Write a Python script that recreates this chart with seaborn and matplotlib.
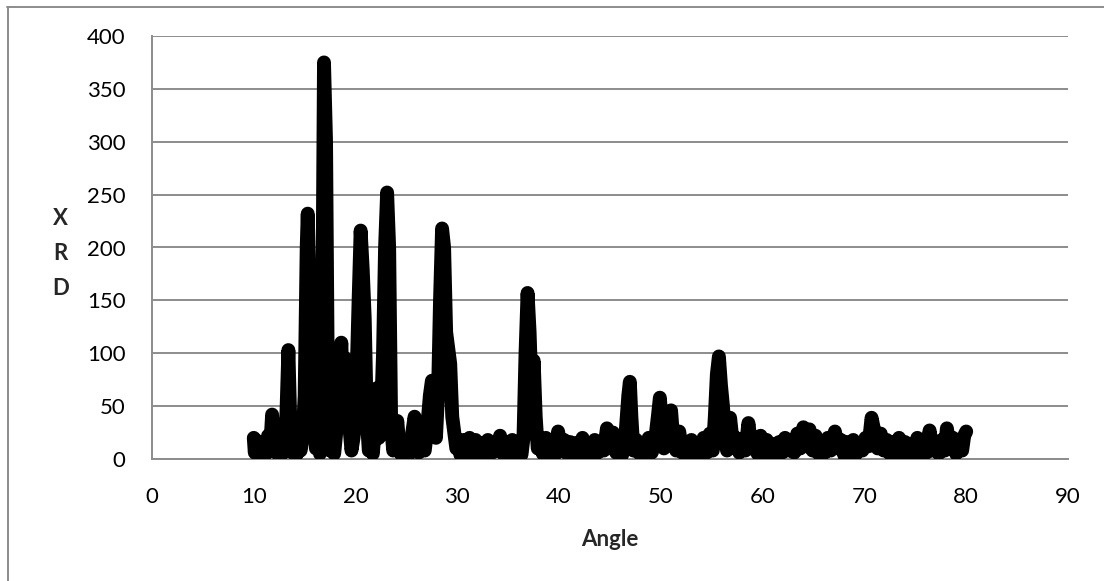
import matplotlib
matplotlib.use("Agg")
import matplotlib.pyplot as plt
from matplotlib.lines import Line2D
import pandas as pd
import seaborn as sns

# Diffraction scan: 2-theta angle (degrees) and measured intensity
angle = [
    10.0, 10.1, 10.2, 10.4, 10.6, 10.8, 11.0, 11.2, 11.4, 11.6, 11.8, 12.0, 12.2, 12.4, 12.6, 12.8,
    13.0, 13.2, 13.4, 13.6, 13.8, 14.0, 14.2, 14.4, 14.6, 14.8, 15.0, 15.2, 15.3, 15.5, 15.7, 15.9,
    16.1, 16.3, 16.5, 16.7, 16.9, 17.1, 17.3, 17.5, 17.7, 17.9, 18.1, 18.3, 18.6, 18.8, 19.0, 19.2,
    19.4, 19.6, 19.8, 20.0, 20.3, 20.5, 20.7, 20.9, 21.1, 21.3, 21.5, 21.7, 21.9, 22.1, 22.3, 22.5,
    22.7, 22.9, 23.1, 23.3, 23.5, 23.7, 23.9, 24.1, 24.3, 24.5, 24.7, 24.9, 25.1, 25.3, 25.5, 25.8,
    26.0, 26.2, 26.5, 26.8, 27.0, 27.3, 27.5, 27.7, 27.9, 28.1, 28.3, 28.5, 28.7, 28.9, 29.1, 29.3,
    29.5, 29.7, 29.9, 30.1, 30.3, 30.6, 30.9, 31.2, 31.5, 31.8, 32.1, 32.4, 32.7, 33.0, 33.3, 33.6,
    33.9, 34.2, 34.5, 34.8, 35.1, 35.4, 35.7, 36.0, 36.3, 36.5, 36.7, 36.9, 37.1, 37.3, 37.5, 37.7,
    37.9, 38.1, 38.4, 38.7, 39.0, 39.3, 39.6, 39.9, 40.2, 40.5, 40.8, 41.1, 41.4, 41.7, 42.0, 42.3,
    42.6, 42.9, 43.2, 43.5, 43.8, 44.1, 44.4, 44.7, 45.0, 45.3, 45.6, 45.9, 46.2, 46.5, 46.8, 46.95,
    47.1, 47.3, 47.6, 47.9, 48.2, 48.5, 48.8, 49.1, 49.4, 49.7, 49.9, 50.1, 50.3, 50.5, 50.8, 51.0,
    51.2, 51.5, 51.8, 52.1, 52.4, 52.7, 53.0, 53.3, 53.6, 53.9, 54.2, 54.5, 54.8, 55.1, 55.3, 55.5,
    55.7, 55.9, 56.1, 56.3, 56.5, 56.8, 57.1, 57.4, 57.7, 58.0, 58.3, 58.6, 58.9, 59.2, 59.5, 59.8,
    60.1, 60.4, 60.7, 61.0, 61.3, 61.6, 61.9, 62.2, 62.5, 62.8, 63.1, 63.4, 63.7, 64.0, 64.3, 64.6,
    64.9, 65.2, 65.5, 65.8, 66.1, 66.4, 66.7, 67.1, 67.4, 67.7, 68.0, 68.3, 68.6, 68.9, 69.2, 69.5,
    69.8, 70.1, 70.4, 70.7, 71.0, 71.3, 71.6, 71.9, 72.2, 72.5, 72.8, 73.1, 73.4, 73.7, 74.0, 74.3,
    74.6, 74.9, 75.2, 75.5, 75.8, 76.1, 76.4, 76.7, 77.0, 77.3, 77.6, 77.9, 78.1, 78.4, 78.7, 79.0,
    79.3, 79.6, 79.8, 80.0,
]
intensity = [
    20, 6, 18, 4, 12, 3, 14, 5, 22, 8, 42, 10, 25, 4, 15, 5,
    20, 40, 103, 30, 6, 14, 4, 18, 8, 20, 60, 200, 232, 150, 30, 60,
    10, 20, 5, 90, 375, 300, 40, 8, 20, 5, 25, 60, 110, 50, 95, 88,
    30, 8, 20, 40, 150, 216, 180, 133, 40, 8, 15, 5, 30, 67, 20, 40,
    100, 200, 252, 200, 30, 8, 20, 36, 12, 4, 14, 3, 12, 5, 20, 40,
    25, 6, 18, 8, 25, 60, 74, 40, 20, 60, 150, 218, 200, 120, 105, 90,
    40, 25, 10, 15, 4, 18, 6, 20, 5, 18, 4, 15, 6, 18, 5, 14,
    8, 22, 5, 16, 4, 18, 6, 15, 4, 20, 100, 157, 120, 60, 93, 40,
    10, 18, 5, 20, 6, 14, 4, 26, 8, 18, 5, 16, 4, 15, 6, 20,
    5, 14, 4, 18, 6, 15, 8, 29, 15, 25, 6, 14, 4, 20, 60, 73,
    40, 8, 18, 5, 14, 4, 20, 6, 15, 40, 58, 30, 10, 20, 35, 46,
    20, 8, 26, 6, 16, 4, 18, 5, 15, 4, 20, 6, 24, 8, 40, 80,
    97, 70, 50, 20, 8, 39, 12, 20, 6, 18, 8, 34, 10, 20, 5, 22,
    4, 18, 6, 14, 4, 16, 6, 20, 8, 18, 6, 24, 10, 30, 12, 28,
    8, 22, 5, 16, 6, 20, 8, 26, 10, 18, 4, 16, 6, 18, 5, 14,
    8, 20, 12, 39, 25, 10, 24, 8, 18, 5, 16, 4, 20, 3, 16, 4,
    14, 6, 20, 4, 15, 6, 27, 8, 16, 5, 18, 8, 29, 10, 20, 5,
    18, 8, 22, 26,
]

x_ticks = [0, 10, 20, 30, 40, 50, 60, 70, 80, 90]
y_ticks = [0, 50, 100, 150, 200, 250, 300, 350, 400]

df = pd.DataFrame({"Angle": angle, "XRD": intensity})

sns.set_theme(style="white")
plt.rcParams["font.family"] = ["Lato", "DejaVu Sans"]

grid_gray = "#8c8c8c"

fig = plt.figure(figsize=(11.04, 5.81), dpi=100)
ax = fig.add_axes([152 / 1104, 122 / 581, (1068 - 152) / 1104, (459 - 36) / 581])

sns.lineplot(data=df, x="Angle", y="XRD", ax=ax, sort=False, estimator=None,
             color="black", linewidth=10.0, solid_joinstyle="round",
             solid_capstyle="round", zorder=3)

ax.set_xlim(0, 90)
ax.set_ylim(0, 400)
ax.set_xticks(x_ticks)
ax.set_yticks(y_ticks)
ax.set_xticklabels([str(v) for v in x_ticks])
ax.set_yticklabels([str(v) for v in y_ticks])

ax.yaxis.grid(True, color=grid_gray, linewidth=1.4)
ax.xaxis.grid(False)
ax.set_axisbelow(True)

for side in ("top", "right"):
    ax.spines[side].set_visible(False)
for side in ("left", "bottom"):
    ax.spines[side].set_color(grid_gray)
    ax.spines[side].set_linewidth(1.4)

ax.tick_params(axis="both", which="major", direction="out", length=6,
               width=1.4, color=grid_gray, labelsize=16, labelcolor="black")
ax.tick_params(axis="x", pad=14)
ax.tick_params(axis="y", pad=13)

ax.set_xlabel("Angle", fontsize=16, fontweight="bold", labelpad=16)
ax.set_ylabel("X\nR\nD", fontsize=16, fontweight="bold", rotation=0,
              labelpad=0, linespacing=1.8, va="center", ha="center")
ax.yaxis.set_label_coords(-0.1, 0.486)

# Chart-area frame: only the top and left edges fall inside the image
fig.add_artist(Line2D([7 / 1104, 1.0], [1 - 7 / 581, 1 - 7 / 581],
                      transform=fig.transFigure, color=grid_gray, linewidth=1.4))
fig.add_artist(Line2D([7.5 / 1104, 7.5 / 1104], [0.0, 1 - 7 / 581],
                      transform=fig.transFigure, color=grid_gray, linewidth=1.4))

fig.savefig("out.png", dpi=100, facecolor="white")
